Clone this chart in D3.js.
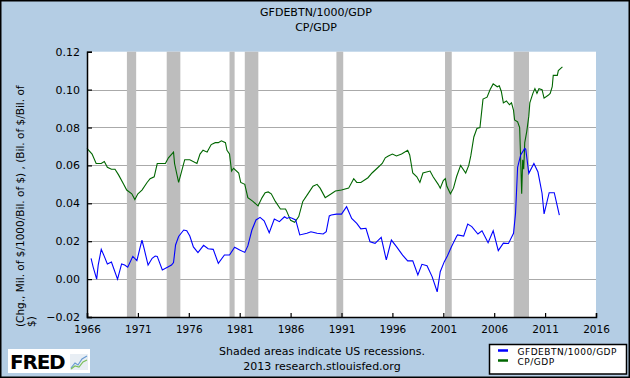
<!DOCTYPE html>
<html>
<head>
<meta charset="utf-8">
<script src="https://cdn.jsdelivr.net/npm/d3@7"></script>
<style>
  html, body { margin: 0; padding: 0; background: #b4cde4; }
  svg { display: block; }
  text { font-family: "DejaVu Sans", sans-serif; fill: #000; }
</style>
</head>
<body>
<svg id="chart" width="630" height="378"></svg>
<script>
// ---------- DATA ----------
const titleLines = ["GFDEBTN/1000/GDP", "CP/GDP"];
const yAxisTitleLines = ["(Chg., Mil. of $/1000/Bil. of $) , (Bil. of $/Bil. of", "$)"];
const seriesNames = ["GFDEBTN/1000/GDP", "CP/GDP"];
const xTickYears = [1966, 1971, 1976, 1981, 1986, 1991, 1996, 2001, 2006, 2011, 2016];
const yTickValues = [-0.02, 0.00, 0.02, 0.04, 0.06, 0.08, 0.10, 0.12];
const recessionStarts = [1969.92, 1973.83, 1980.0, 1981.5, 1990.5, 2001.17, 2007.92];
const recessionEnds   = [1970.83, 1975.17, 1980.5, 1982.83, 1991.17, 2001.83, 2009.42];

// GFDEBTN/1000/GDP (blue)
const debtYears = [1966.4,1966.6,1966.95,1967.1,1967.4,1967.7,1968.0,1968.4,1969.0,1969.4,1969.7,1970.0,1970.5,1970.9,1971.2,1971.4,1971.6,1972.0,1972.4,1972.7,1972.9,1973.4,1973.9,1974.3,1974.5,1974.7,1975.0,1975.5,1975.8,1976.1,1976.45,1976.9,1977.45,1977.9,1978.4,1978.9,1979.5,1980.0,1980.5,1981.0,1981.5,1981.8,1982.2,1982.6,1983.0,1983.4,1983.9,1984.4,1984.9,1985.4,1985.65,1985.9,1986.2,1986.5,1986.9,1987.6,1988.0,1988.6,1989.2,1989.5,1989.8,1990.0,1990.5,1991.0,1991.5,1992.0,1992.5,1992.9,1993.4,1993.8,1994.3,1994.9,1995.4,1995.9,1996.4,1997.0,1997.5,1998.0,1998.5,1998.9,1999.4,1999.9,2000.4,2000.7,2001.1,2001.4,2001.8,2002.3,2002.4,2003.0,2003.4,2003.8,2004.4,2004.8,2005.4,2005.9,2006.4,2006.9,2007.4,2007.9,2008.1,2008.3,2008.6,2009.0,2009.1,2009.4,2009.9,2010.3,2010.7,2010.9,2011.4,2011.9,2012.4];
const debtValues = [0.011,0.0065,0.000,0.0074,0.0157,0.012,0.008,0.009,0.000,0.008,0.0074,0.0063,0.012,0.0097,0.0163,0.0205,0.0163,0.0074,0.011,0.0122,0.012,0.0048,0.0062,0.0074,0.0087,0.018,0.0225,0.0259,0.0255,0.0227,0.017,0.014,0.0178,0.016,0.0157,0.0083,0.0127,0.0127,0.0168,0.0154,0.0141,0.0175,0.0259,0.0312,0.0326,0.0308,0.0245,0.0317,0.0303,0.0329,0.032,0.0326,0.032,0.0312,0.0233,0.0242,0.025,0.0242,0.0238,0.025,0.0333,0.0338,0.0343,0.0343,0.0382,0.032,0.0294,0.0265,0.0268,0.0197,0.0189,0.022,0.0101,0.0206,0.0171,0.0127,0.0096,0.0097,0.0022,0.0078,0.0071,0.0013,-0.0067,0.0039,0.0092,0.0122,0.0171,0.0225,0.0233,0.0227,0.029,0.0277,0.0238,0.0255,0.0192,0.0255,0.015,0.019,0.0188,0.0242,0.035,0.059,0.0655,0.069,0.0685,0.0558,0.061,0.0565,0.0453,0.0344,0.0456,0.0456,0.0338];

// CP/GDP (green)
const cpYears = [1966.0,1966.5,1966.9,1967.4,1967.7,1968.0,1968.4,1968.75,1969.1,1969.6,1969.9,1970.4,1970.7,1971.0,1971.4,1971.9,1972.2,1972.6,1972.9,1973.7,1974.0,1974.5,1974.6,1975.0,1975.3,1975.6,1976.1,1976.8,1977.1,1977.4,1977.8,1978.2,1978.6,1978.9,1979.2,1979.6,1979.75,1980.0,1980.2,1980.4,1980.9,1981.1,1981.5,1981.8,1982.3,1982.8,1983.2,1983.5,1983.8,1984.1,1984.5,1985.0,1985.5,1985.6,1986.0,1986.4,1986.8,1987.2,1987.7,1988.2,1988.6,1988.9,1989.4,1989.7,1990.0,1990.4,1991.0,1991.7,1992.2,1992.5,1992.9,1993.6,1994.0,1994.5,1995.0,1995.3,1995.6,1996.0,1996.4,1996.9,1997.5,1997.7,1998.0,1998.4,1998.7,1999.0,1999.7,2000.0,2000.5,2000.7,2001.0,2001.2,2001.35,2001.7,2002.0,2002.3,2002.7,2003.2,2003.5,2003.7,2004.0,2004.3,2004.6,2004.9,2005.3,2005.6,2005.9,2006.3,2006.5,2006.7,2006.9,2007.2,2007.5,2007.7,2007.9,2008.0,2008.3,2008.5,2008.6,2008.7,2008.8,2008.9,2009.0,2009.2,2009.4,2009.5,2009.8,2010.0,2010.2,2010.4,2010.7,2010.9,2011.3,2011.5,2011.7,2011.8,2012.2,2012.3,2012.7];
const cpValues = [0.069,0.066,0.061,0.061,0.062,0.059,0.058,0.058,0.055,0.050,0.047,0.045,0.042,0.045,0.047,0.051,0.053,0.054,0.061,0.061,0.064,0.067,0.061,0.051,0.057,0.063,0.063,0.061,0.066,0.068,0.067,0.071,0.072,0.072,0.073,0.072,0.068,0.066,0.057,0.0585,0.056,0.051,0.050,0.043,0.041,0.0386,0.043,0.0456,0.046,0.045,0.041,0.037,0.037,0.036,0.031,0.030,0.033,0.041,0.045,0.049,0.050,0.048,0.043,0.044,0.045,0.0465,0.047,0.048,0.053,0.051,0.051,0.0535,0.056,0.0585,0.061,0.064,0.065,0.066,0.065,0.066,0.068,0.0655,0.056,0.054,0.051,0.056,0.057,0.054,0.050,0.048,0.052,0.053,0.049,0.045,0.048,0.054,0.060,0.056,0.060,0.065,0.075,0.0795,0.080,0.095,0.096,0.100,0.103,0.1015,0.102,0.099,0.093,0.094,0.092,0.093,0.089,0.084,0.083,0.080,0.063,0.045,0.063,0.058,0.072,0.078,0.086,0.093,0.098,0.1005,0.098,0.1005,0.100,0.0955,0.097,0.098,0.1015,0.1075,0.1075,0.110,0.112];

// ---------- CHART ----------
const W = 630, H = 378;
const plot = { left: 87, right: 596, top: 51.7, bottom: 317 };
const colors = ["#0000ff", "#006600"];

const svg = d3.select("#chart");
svg.append("rect").attr("x", 0.5).attr("y", 0.5).attr("width", W - 1).attr("height", H - 1)
  .attr("fill", "#b4cde4").attr("stroke", "#000").attr("stroke-width", 2);

const x = d3.scaleLinear().domain([1966, 2016]).range([plot.left, plot.right]);
const y = d3.scaleLinear().domain([-0.02, 0.12]).range([plot.bottom, plot.top]);

// plot background
svg.append("rect").attr("x", plot.left).attr("y", plot.top)
  .attr("width", plot.right - plot.left).attr("height", plot.bottom - plot.top)
  .attr("fill", "#fff");

// gridlines
svg.append("g").selectAll("line").data(yTickValues.filter(v => v > -0.02 && v < 0.12)).join("line")
  .attr("x1", plot.left).attr("x2", plot.right)
  .attr("y1", d => Math.round(y(d)) + 0.5).attr("y2", d => Math.round(y(d)) + 0.5)
  .attr("stroke", "#aaaaaa").attr("stroke-width", 1);

// recessions
svg.append("g").selectAll("rect").data(recessionStarts.map((s, i) => [s, recessionEnds[i]])).join("rect")
  .attr("x", d => x(d[0])).attr("width", d => x(d[1]) - x(d[0]))
  .attr("y", plot.top).attr("height", plot.bottom - plot.top)
  .attr("fill", "#bdbdbd");

// lines
const line = d3.line().x(d => x(d[0])).y(d => y(d[1]));
const debtData = debtYears.map((yr, i) => [yr, debtValues[i]]);
const cpData = cpYears.map((yr, i) => [yr, cpValues[i]]);
svg.append("path").datum(cpData).attr("d", line).attr("fill", "none")
  .attr("stroke", colors[1]).attr("stroke-width", 1.1);
svg.append("path").datum(debtData).attr("d", line).attr("fill", "none")
  .attr("stroke", colors[0]).attr("stroke-width", 1.1);

// axes
const yAxis = d3.axisLeft(y).tickValues(yTickValues).tickFormat(d3.format(".2f")).tickSize(-5).tickPadding(7);
const gy = svg.append("g").attr("transform", `translate(${plot.left},0)`).call(yAxis);
gy.select(".domain").attr("stroke", "#000").attr("stroke-width", 1.5);
gy.selectAll(".tick line").attr("stroke", "#000").attr("stroke-width", 1.2);
gy.selectAll(".tick text").attr("font-size", 11).attr("font-family", "DejaVu Sans");

const xAxis = d3.axisBottom(x).tickValues(xTickYears).tickFormat(d3.format("d")).tickSize(-4).tickPadding(9);
const gx = svg.append("g").attr("transform", `translate(0,${plot.bottom})`).call(xAxis);
gx.select(".domain").attr("stroke", "#000").attr("stroke-width", 1.5);
gx.selectAll(".tick line").attr("stroke", "#000").attr("stroke-width", 1.2);
gx.selectAll(".tick text").attr("font-size", 10.5).attr("font-family", "DejaVu Sans");

// title
svg.append("g").selectAll("text").data(titleLines).join("text")
  .attr("x", 316).attr("y", (d, i) => 16 + i * 15)
  .attr("text-anchor", "middle").attr("font-size", 11).text(d => d);

// y-axis title
svg.append("g").selectAll("text").data(yAxisTitleLines).join("text")
  .attr("transform", (d, i) => `translate(${24 + i * 11},327) rotate(-90)`)
  .attr("text-anchor", "start").attr("font-size", 10.5).text(d => d);

// footer
svg.append("text").attr("x", 322).attr("y", 355).attr("text-anchor", "middle").attr("font-size", 11)
  .text("Shaded areas indicate US recessions.");
svg.append("text").attr("x", 322).attr("y", 370).attr("text-anchor", "middle").attr("font-size", 11)
  .text("2013 research.stlouisfed.org");

// legend
const lg = svg.append("g");
lg.append("rect").attr("x", 489.5).attr("y", 344.5).attr("width", 137).attr("height", 29.5)
  .attr("fill", "#fff").attr("stroke", "#000").attr("stroke-width", 1.5);
seriesNames.forEach((name, i) => {
  lg.append("line").attr("x1", 498).attr("x2", 508).attr("y1", 350.5 + i * 10).attr("y2", 350.5 + i * 10)
    .attr("stroke", colors[i]).attr("stroke-width", 2.5);
  lg.append("text").attr("x", 517.5).attr("y", 354.5 + i * 10).attr("font-size", 9)
    .attr("letter-spacing", 0.5).text(name);
});

// FRED logo
const logo = svg.append("g");
logo.append("rect").attr("x", 8).attr("y", 349).attr("width", 82).attr("height", 24).attr("fill", "#fff");
logo.append("text").attr("x", 10).attr("y", 369).attr("font-size", 20).attr("font-weight", "bold")
  .attr("font-family", "DejaVu Sans").attr("letter-spacing", -1.2).text("FRED");
logo.append("rect").attr("x", 70).attr("y", 354).attr("width", 18).attr("height", 16).attr("fill", "#e8eef4");
logo.append("path").attr("d", "M71,368 L75,363 L78,365 L82,359 L87,356").attr("fill", "none")
  .attr("stroke", "#6a9bd1").attr("stroke-width", 1.2);
logo.append("path").attr("d", "M71,369 L75,366 L79,367 L83,362 L87,360").attr("fill", "none")
  .attr("stroke", "#7bbf5a").attr("stroke-width", 1.2);
</script>
</body>
</html>
